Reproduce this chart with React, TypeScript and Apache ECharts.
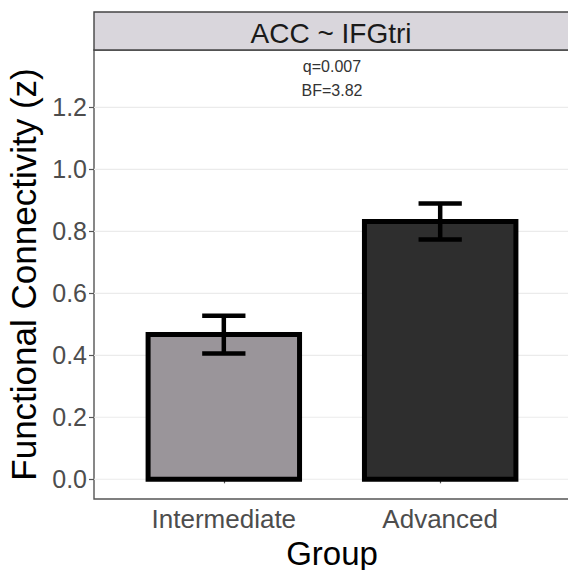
import React, { useEffect, useRef } from "react";
import * as echarts from "echarts";

const categories = ["Intermediate", "Advanced"];
const means = [0.467, 0.832];
const ses = [0.061, 0.058];
const fills = ["#9a959a", "#2e2e2e"];
const yTicks = [0, 0.2, 0.4, 0.6, 0.8, 1.0, 1.2];
const annotations = ["q=0.007", "BF=3.82"];
const annotationY = [1.333, 1.253];
const facetLabel = "ACC ~ IFGtri";
const xTitle = "Group";
const yTitle = "Functional Connectivity (z)";

const FONT = "Liberation Sans, Arial, sans-serif";
const X_MIN = 0.4;
const X_MAX = 2.6;

export default function App() {
  const ref = useRef<HTMLDivElement>(null);
  useEffect(() => {
    document.body.style.margin = "0";
    if (!ref.current) return;
    const chart = echarts.init(ref.current, null, { renderer: "svg" });
    const xPos = categories.map((_, i) => i + 1);
    chart.setOption({
      animation: false,
      backgroundColor: "#ffffff",
      grid: {
        left: 94,
        top: 50,
        width: 476,
        height: 449,
        outerBoundsMode: "none",
        containLabel: false,
        show: true,
        borderColor: "#555555",
        borderWidth: 1.4,
        backgroundColor: "transparent",
      },
      xAxis: {
        type: "value",
        min: X_MIN,
        max: X_MAX,
        name: xTitle,
        nameLocation: "middle",
        nameGap: 33,
        nameTextStyle: { fontSize: 33, lineHeight: 34, color: "#000000", fontFamily: FONT },
        axisLine: { show: false },
        splitLine: { show: false },
        axisTick: {
          show: true,
          length: 4,
          customValues: xPos,
          lineStyle: { color: "#555555", width: 1.2 },
        },
        axisLabel: {
          customValues: xPos,
          margin: 7,
          fontSize: 26,
          color: "#4d4d4d",
          fontFamily: FONT,
          formatter: (v: number) => categories[Math.round(v) - 1] ?? "",
        },
      },
      yAxis: {
        type: "value",
        min: -0.0635,
        max: 1.385,
        name: yTitle,
        nameLocation: "middle",
        nameGap: 43,
        nameTextStyle: { fontSize: 35, color: "#000000", fontFamily: FONT },
        axisLine: { show: false },
        splitLine: { show: false },
        axisTick: {
          show: true,
          length: 5,
          customValues: yTicks,
          lineStyle: { color: "#555555", width: 1.2 },
        },
        axisLabel: {
          customValues: yTicks,
          margin: 7,
          fontSize: 25,
          color: "#4d4d4d",
          fontFamily: FONT,
          formatter: (v: number) => v.toFixed(1),
        },
      },
      graphic: [
        {
          type: "rect",
          z: 10,
          shape: { x: 94, y: 12, width: 480, height: 38 },
          style: { fill: "#d9d6dc", stroke: "#444444", lineWidth: 1.4 },
        },
        {
          type: "text",
          z: 11,
          x: 331,
          y: 33,
          style: {
            text: facetLabel,
            fontSize: 28,
            fontFamily: FONT,
            fill: "#1a1a1a",
            textAlign: "center",
            textVerticalAlign: "middle",
          },
        },
      ],
      series: [
        {
          type: "custom",
          name: "grid",
          z: 1,
          silent: true,
          data: yTicks.map((v) => [v]),
          encode: { y: 0 },
          renderItem: (params: any, api: any) => {
            const v = api.value(0);
            const a = api.coord([X_MIN, v]);
            const b = api.coord([X_MAX, v]);
            return {
              type: "line",
              shape: { x1: a[0], y1: a[1], x2: b[0], y2: b[1] },
              style: { stroke: "#ebebeb", lineWidth: 1.1 },
            };
          },
        },
        {
          type: "custom",
          name: "bars",
          z: 2,
          data: xPos.map((x, i) => [x, means[i]]),
          encode: { x: 0, y: 1 },
          renderItem: (params: any, api: any) => {
            const x = api.value(0);
            const y = api.value(1);
            const p1 = api.coord([x - 0.35, y]);
            const p2 = api.coord([x + 0.35, 0]);
            return {
              type: "rect",
              shape: {
                x: p1[0],
                y: p1[1],
                width: p2[0] - p1[0],
                height: p2[1] - p1[1],
              },
              style: {
                fill: fills[params.dataIndex],
                stroke: "#000000",
                lineWidth: 5,
                lineJoin: "miter",
              },
            };
          },
        },
        {
          type: "custom",
          name: "errors",
          z: 3,
          data: xPos.map((x, i) => [x, means[i] - ses[i], means[i] + ses[i]]),
          encode: { x: 0, y: [1, 2] },
          renderItem: (params: any, api: any) => {
            const x = api.value(0);
            const lo = api.value(1);
            const hi = api.value(2);
            const top = api.coord([x, hi]);
            const bot = api.coord([x, lo]);
            const tl = api.coord([x - 0.1, hi]);
            const tr = api.coord([x + 0.1, hi]);
            const bl = api.coord([x - 0.1, lo]);
            const br = api.coord([x + 0.1, lo]);
            const style = { stroke: "#000000", lineWidth: 4.5 };
            return {
              type: "group",
              children: [
                { type: "line", shape: { x1: top[0], y1: top[1], x2: bot[0], y2: bot[1] }, style },
                { type: "line", shape: { x1: tl[0], y1: tl[1], x2: tr[0], y2: tr[1] }, style },
                { type: "line", shape: { x1: bl[0], y1: bl[1], x2: br[0], y2: br[1] }, style },
              ],
            };
          },
        },
        {
          type: "custom",
          name: "annotations",
          z: 4,
          silent: true,
          data: annotations.map((t, i) => [1.5, annotationY[i]]),
          encode: { x: 0, y: 1 },
          renderItem: (params: any, api: any) => {
            const p = api.coord([api.value(0), api.value(1)]);
            return {
              type: "text",
              x: p[0],
              y: p[1],
              style: {
                text: annotations[params.dataIndex],
                fontSize: 16,
                fontFamily: FONT,
                fill: "#333333",
                textAlign: "center",
                textVerticalAlign: "middle",
              },
            };
          },
        },
      ],
    });
    return () => chart.dispose();
  }, []);
  return <div ref={ref} style={{ width: 568, height: 570 }} />;
}
